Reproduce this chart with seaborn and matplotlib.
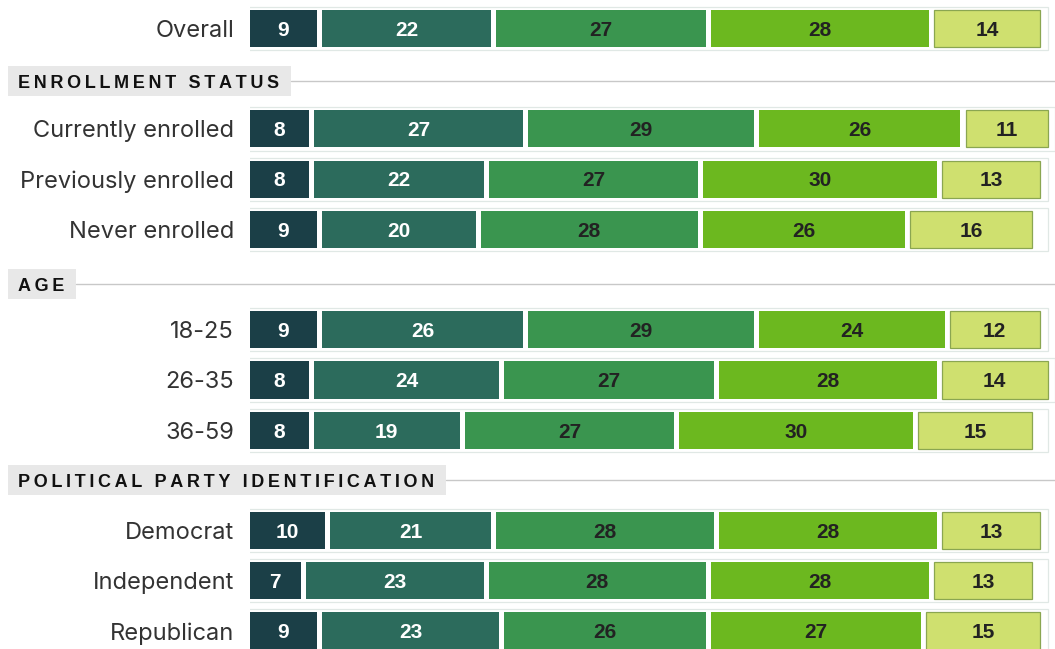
import numpy as np
import matplotlib
matplotlib.use("Agg")
import matplotlib.pyplot as plt
import matplotlib.patches as mpatches
from matplotlib.transforms import offset_copy
import seaborn as sns

# rows (top to bottom) and their slot on the y axis; header slots sit in between
rows = ["Overall", "Currently enrolled", "Previously enrolled", "Never enrolled",
        "18-25", "26-35", "36-59", "Democrat", "Independent", "Republican"]
row_pos = [0, 2, 3, 4, 6, 7, 8, 10, 11, 12]
headers = ["ENROLLMENT STATUS", "AGE", "POLITICAL PARTY IDENTIFICATION"]
header_pos = [1, 5, 9]

# the five answer segments, left to right
seg1 = [9, 8, 8, 9, 9, 8, 8, 10, 7, 9]
seg2 = [22, 27, 22, 20, 26, 24, 19, 21, 23, 23]
seg3 = [27, 29, 27, 28, 29, 27, 27, 28, 28, 26]
seg4 = [28, 26, 30, 26, 24, 28, 30, 28, 28, 27]
seg5 = [14, 11, 13, 16, 12, 14, 15, 13, 13, 15]

seg_colors = ["#1b3f47", "#2c6b5c", "#3a954f", "#6cb81f", "#cfe06f"]
seg_edges = ["none", "none", "none", "none", "#8aa651"]
text_colors = ["white", "white", "#222222", "#222222", "#222222"]

W, H = 1055, 649
X0 = 250          # left pixel of the bars
PX_UNIT = 7.95    # pixels per percentage point
ROW_PX = 50.2     # pixels per row slot
GAP = 5 / PX_UNIT
NUM_FONT = ["Liberation Sans", "DejaVu Sans"]

sns.set_style("white")
plt.rcParams["font.family"] = ["Inter", "DejaVu Sans"]

fig = plt.figure(figsize=(W / 100, H / 100), dpi=100)
ax = fig.add_axes([X0 / W, 0, (W - X0) / W, 1])
ax.patch.set_visible(False)
ax.set_xlim(0, (W - X0) / PX_UNIT)
ax.set_ylim(12 + 18 / ROW_PX, -28.5 / ROW_PX)

# numbers sit on their baseline, shifted down by half the digit height
num_trans = offset_copy(ax.transData, fig=fig, x=0, y=-5.3, units="points")

segments = [seg1, seg2, seg3, seg4, seg5]
left = np.zeros(len(rows))
for i, vals in enumerate(segments):
    vals = np.array(vals, dtype=float)
    sns.barplot(x=vals - GAP, y=row_pos, orient="y", native_scale=True,
                left=left, width=0.74, color=seg_colors[i], saturation=1,
                edgecolor=seg_edges[i], linewidth=0.9 if i == 4 else 0,
                errorbar=None, ax=ax, zorder=2)
    for p, l, v in zip(row_pos, left, vals):
        ax.text(l + (v - GAP) / 2, p, f"{int(v)}", ha="center", va="baseline",
                fontsize=15, fontweight="bold", color=text_colors[i],
                family=NUM_FONT, transform=num_trans, zorder=3)
    left = left + vals

# faint outline box around every row
for p, tot in zip(row_pos, left):
    right = max(100.4, tot + 0.2)
    ax.add_patch(mpatches.Rectangle((-0.4, p - 0.43), right + 0.4, 0.86,
                                    fill=False, ec="#e0e8e5", lw=0.9, zorder=1))

ax.set_xlim(0, (W - X0) / PX_UNIT)
ax.set_ylim(12 + 18 / ROW_PX, -28.5 / ROW_PX)
ax.set_yticks(row_pos, rows)
ax.tick_params(axis="y", length=0, pad=11.5, labelsize=17, labelcolor="#333333")
ax.set_xticks([])
ax.set_xlabel("")
ax.set_ylabel("")
sns.despine(ax=ax, left=True, bottom=True)

# section headers: grey tag with spaced capitals + rule to the right
nudge = [0.05, 0.09, 0.0]
renderer = fig.canvas.get_renderer()
for h, p, dn in zip(headers, header_pos, nudge):
    yc = ax.transData.transform((0, p + dn))[1]
    spaced = "\u2009 \u2009".join("\u2009".join(w) for w in h.split(" "))
    t = fig.text(18 / W, (yc - 6.5) / H, spaced, ha="left", va="baseline",
                 fontsize=13, fontweight="bold", color="#111111", family=NUM_FONT)
    bb = t.get_window_extent(renderer)
    x1 = bb.x1 + 12
    fig.add_artist(mpatches.Rectangle((8 / W, (yc - 15) / H), (x1 - 8) / W, 30 / H,
                                      transform=fig.transFigure, fc="#e8e8e8",
                                      ec="none", zorder=-1))
    fig.add_artist(plt.Line2D([x1 / W, 1], [yc / H, yc / H], transform=fig.transFigure,
                              color="#c8c8c8", lw=1, zorder=-1))

fig.savefig("out.png", dpi=100)
